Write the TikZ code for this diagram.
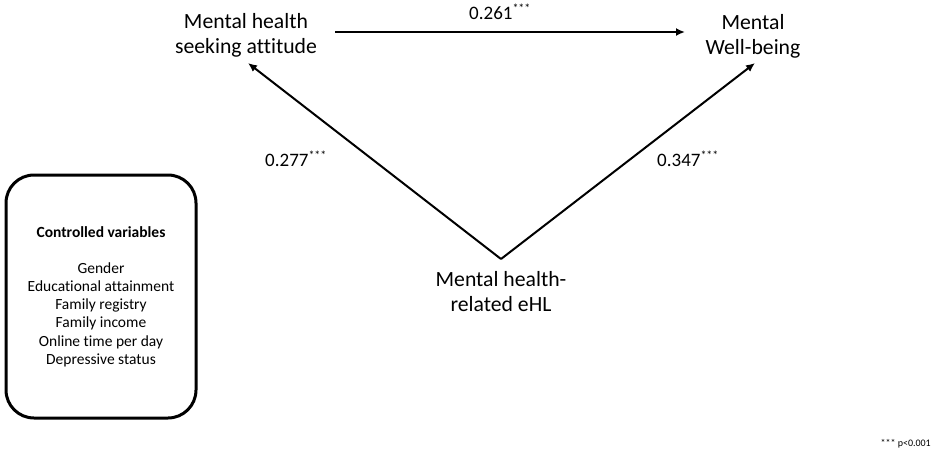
\documentclass[tikz,border=0pt]{standalone}
\usepackage{fontspec}
\setmainfont{Carlito}[Ligatures=NoCommon]
\usetikzlibrary{arrows.meta}
\begin{document}
\begin{tikzpicture}[x=1pt,y=-1pt,
  vartext/.style={align=center,inner sep=0pt,font=\fontsize{21.7}{25}\selectfont},
  coef/.style={anchor=base west,inner sep=0pt,font=\fontsize{19}{22}\selectfont},
  arr/.style={line width=2pt,-{Latex[length=9pt,width=8pt]}},
  ctrlbox/.style={draw,line width=3pt,rounded corners=28pt,minimum width=190pt,minimum height=243pt,
     align=center,inner sep=0pt,font=\fontsize{15.5}{18.2}\selectfont}]
\useasboundingbox (0,0) rectangle (935,451);
% variable nodes
\node[vartext] (msa) at (246,35) {Mental health\\seeking attitude};
\node[vartext] (mwb) at (753,36) {Mental\\Well-being};
\node[vartext] (ehl) at (501,292) {Mental health-\\related eHL};
% connector end points
\coordinate (hstart) at (335,32);
\coordinate (hend) at (685,32);
\coordinate (apex) at (501,259);
\coordinate (ltip) at (248,63);
\coordinate (rtip) at (755,63);
\draw[arr] (hstart) -- (hend);
\draw[arr] (apex) -- (ltip);
\draw[arr] (apex) -- (rtip);
% coefficients
\node[coef] (c1) at (469,19) {0.261\textsuperscript{\fontsize{12}{12}\selectfont***}};
\node[coef] (c2) at (265,166) {0.277\textsuperscript{\fontsize{12}{12}\selectfont***}};
\node[coef] (c3) at (657,166) {0.347\textsuperscript{\fontsize{12}{12}\selectfont***}};
% controlled variables box
\node[ctrlbox] (ctrl) at (101,296.5) {\textbf{Controlled variables}\\[18pt]
Gender\\Educational attainment\\Family registry\\Family income\\Online time per day\\Depressive status};
% footnote
\node[anchor=base east,inner sep=0pt,font=\fontsize{10}{12}\selectfont] (note) at (931,446) {*** p<0.001};
\end{tikzpicture}
\end{document}
